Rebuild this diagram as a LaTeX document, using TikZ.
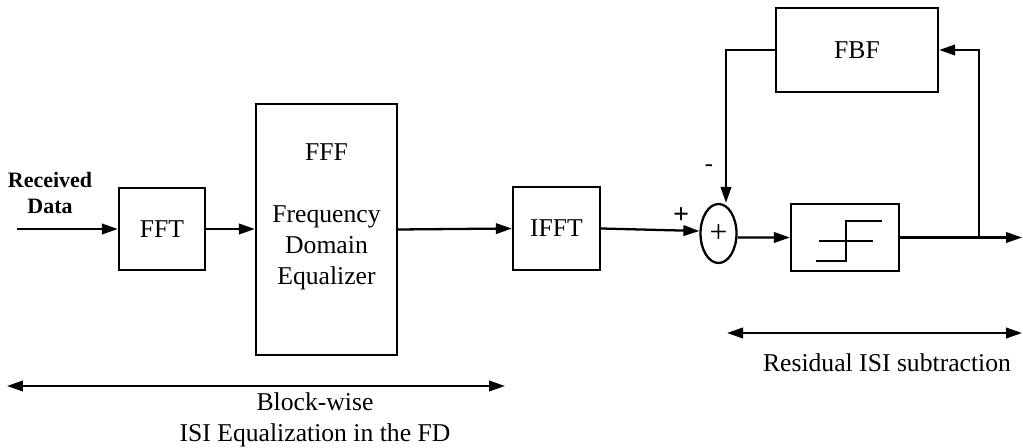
\documentclass[tikz,border=0pt]{standalone}
\usepackage{fontspec}
\setmainfont{Liberation Serif}
\usetikzlibrary{shapes.geometric}
\usetikzlibrary{arrows.meta}

\begin{document}
\begin{tikzpicture}[x=0.02cm,y=-0.02cm,line width=1.3pt,
  >={Triangle[length=3.2mm,width=2.1mm]},
  blk/.style={draw,rectangle,inner sep=0pt},
  txt/.style={font=\fontsize{14.6}{17.6}\selectfont}]
\useasboundingbox (0,0) rectangle (1023,448);
% blocks
\node[blk,txt,minimum width=1.72cm,minimum height=1.64cm] (fft)  at (162,229)   {FFT};
\node[blk,minimum width=2.82cm,minimum height=5.02cm]     (fff)  at (326.5,229.5) {};
\node[txt,align=center] (fffTxt) at (326.5,217) {FFF\\[17.8pt]Frequency\\Domain\\Equalizer};
\node[blk,txt,minimum width=1.74cm,minimum height=1.66cm] (ifft) at (556.5,228.5) {IFFT};
\node[draw,ellipse,inner sep=0pt,minimum width=0.72cm,minimum height=1.18cm,
      font=\fontsize{18}{20}\selectfont] (sum) at (718.5,233.5) {+};
\node[blk,minimum width=2.16cm,minimum height=1.34cm]     (dec)  at (845,237.5) {};
\node[blk,txt,minimum width=3.24cm,minimum height=1.68cm] (fbf)  at (857,50)    {FBF};
% decision symbol
\draw (819,241) -- (873,241);
\draw (816,261) -- (846,261) -- (846,221) -- (882,221);
% signal path
\coordinate (in)  at (17,229);
\coordinate (out) at (1022,237.5);
\coordinate (br)  at (979,237.5);
\draw[->] (in) -- (fft.west);
\draw[->] (fft.east) -- (fft.east -| fff.west);
\draw[->] (fff.east) -- (ifft.west);
\draw[->] (ifft.east) -- ([yshift=0.05cm]sum.west);
\draw[->] ([yshift=-0.08cm]sum.east) -- (dec.west);
\draw[->] (dec.east) -- (out);
\draw[->] (br) |- (fbf.east);
\draw[->] (fbf.west) -| ([xshift=0.15cm]sum.north);
% labels
\node[font=\fontsize{12.5}{14.8}\selectfont\bfseries,align=center] (rx) at (50,193) {Received\\Data};
\node[font=\fontsize{16}{18}\selectfont\bfseries] (pl) at (681,216) {+};
\node[font=\fontsize{14}{16}\selectfont] (mi) at (709,168) {-};
% ranges
\coordinate (bwL) at (7,386);
\coordinate (bwR) at (505,386);
\draw[<->] (bwL) -- (bwR);
\node[txt,align=center] (bwTxt) at (315,420) {Block-wise\\ISI Equalization in the FD};
\coordinate (rsL) at (727,333);
\coordinate (rsR) at (1022,333);
\draw[<->] (rsL) -- (rsR);
\node[txt] (rsTxt) at (887,363) {Residual ISI subtraction};
\end{tikzpicture}
\end{document}
